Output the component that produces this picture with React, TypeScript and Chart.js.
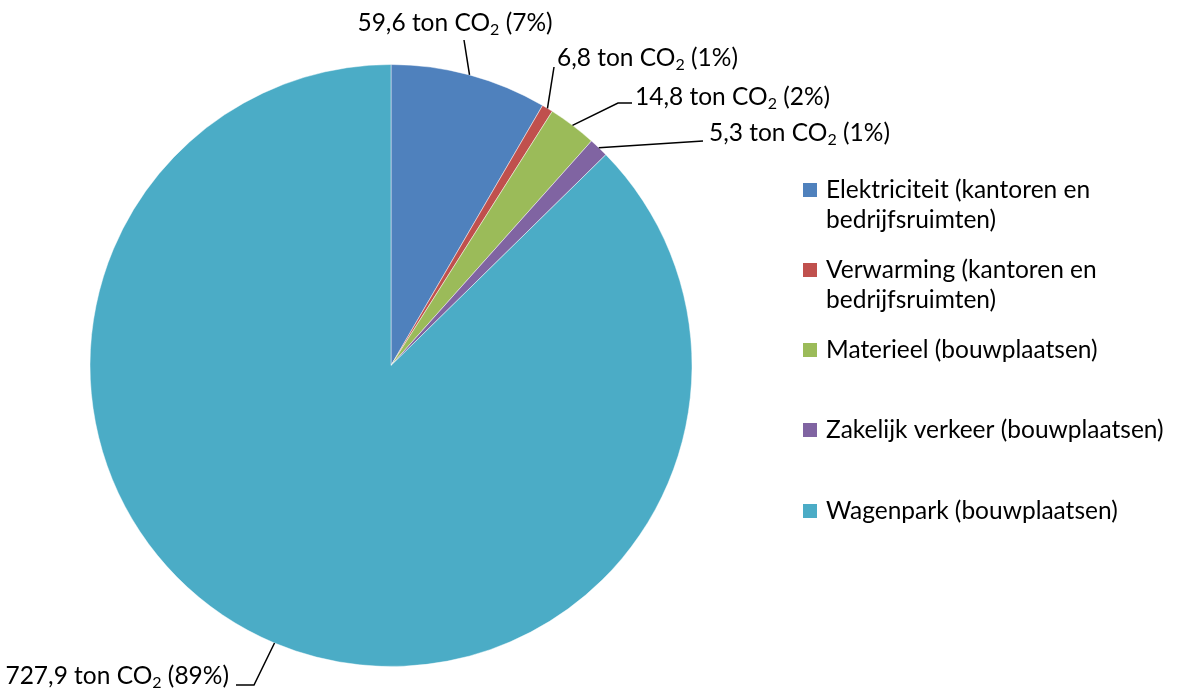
import React, { useEffect, useRef } from "react";
import { Chart, registerables } from "chart.js";

Chart.register(...registerables);

const categories = [
  "Elektriciteit (kantoren en bedrijfsruimten)",
  "Verwarming (kantoren en bedrijfsruimten)",
  "Materieel (bouwplaatsen)",
  "Zakelijk verkeer (bouwplaatsen)",
  "Wagenpark (bouwplaatsen)",
];
// slice shares as drawn in the picture (percent of the circle)
const sliceShares = [8.4, 0.6, 2.6, 1.05, 87.35];
// label texts as printed
const tonLabels = ["59,6", "6,8", "14,8", "5,3", "727,9"];
const pctLabels = ["7%", "1%", "2%", "1%", "89%"];
const legendLines = [
  ["Elektriciteit (kantoren en", "bedrijfsruimten)"],
  ["Verwarming (kantoren en", "bedrijfsruimten)"],
  ["Materieel (bouwplaatsen)"],
  ["Zakelijk verkeer (bouwplaatsen)"],
  ["Wagenpark (bouwplaatsen)"],
];
const colors = ["#4F81BD", "#C0504D", "#9BBB59", "#8064A2", "#4BACC6"];

const FONT = "Lato, 'Open Sans', sans-serif";
const FS = 24.5;

// layout of labels: text anchor + leader line path (after arc point)
const labelLayout = [
  { x: 455, y: 23, align: "center", path: [[464, 40]] },
  { x: 557, y: 58, align: "left", path: [[554, 67]] },
  { x: 635, y: 97, align: "left", path: [[618, 103], [632, 103]] },
  { x: 709, y: 133, align: "left", path: [[703, 141]] },
  { x: 229, y: 676, align: "right", path: [[254, 685], [236, 685]] },
];
const legendLayout = { boxX: 803, textX: 826, size: 14, lineH: 30, rows: [190, 270, 350, 430, 511] };

function drawCO2(ctx: CanvasRenderingContext2D, ton: string, pct: string, x: number, y: number, align: string) {
  const a = ton + " ton CO";
  const s = "2";
  const b = " (" + pct + ")";
  const subFs = Math.round(FS * 0.66);
  ctx.font = `${FS}px ${FONT}`;
  const wa = ctx.measureText(a).width;
  const wb = ctx.measureText(b).width;
  ctx.font = `${subFs}px ${FONT}`;
  const ws = ctx.measureText(s).width;
  const total = wa + ws + wb;
  let x0 = x;
  if (align === "center") x0 = x - total / 2;
  else if (align === "right") x0 = x - total;
  ctx.textAlign = "left";
  ctx.textBaseline = "middle";
  ctx.fillStyle = "#000";
  ctx.font = `${FS}px ${FONT}`;
  ctx.fillText(a, x0, y);
  ctx.font = `${subFs}px ${FONT}`;
  ctx.fillText(s, x0 + wa, y + 7);
  ctx.font = `${FS}px ${FONT}`;
  ctx.fillText(b, x0 + wa + ws, y);
}

const labelPlugin = {
  id: "pieLabels",
  afterDraw(chart: any) {
    const ctx: CanvasRenderingContext2D = chart.ctx;
    const meta = chart.getDatasetMeta(0);
    ctx.save();
    meta.data.forEach((arc: any, i: number) => {
      const p = arc.getProps(["x", "y", "startAngle", "endAngle", "outerRadius"], true);
      const mid = (p.startAngle + p.endAngle) / 2;
      const sx = p.x + Math.cos(mid) * p.outerRadius;
      const sy = p.y + Math.sin(mid) * p.outerRadius;
      const L = labelLayout[i];
      ctx.beginPath();
      ctx.moveTo(sx, sy);
      L.path.forEach((pt) => ctx.lineTo(pt[0], pt[1]));
      ctx.strokeStyle = "#000";
      ctx.lineWidth = 1.5;
      ctx.stroke();
      drawCO2(ctx, tonLabels[i], pctLabels[i], L.x, L.y, L.align);
    });
    // legend
    legendLines.forEach((lines, i) => {
      const cy = legendLayout.rows[i];
      ctx.fillStyle = colors[i];
      ctx.fillRect(legendLayout.boxX, cy - legendLayout.size / 2, legendLayout.size, legendLayout.size);
      ctx.fillStyle = "#000";
      ctx.font = `${FS}px ${FONT}`;
      ctx.textAlign = "left";
      ctx.textBaseline = "middle";
      lines.forEach((t, j) => ctx.fillText(t, legendLayout.textX, cy + j * legendLayout.lineH));
    });
    ctx.restore();
  },
};

export default function App() {
  const ref = useRef<HTMLCanvasElement>(null);
  useEffect(() => {
    document.body.style.margin = "0";
    const chart = new Chart(ref.current!, {
      type: "pie",
      data: {
        labels: categories,
        datasets: [
          {
            data: sliceShares,
            backgroundColor: colors,
            borderColor: "rgba(255,255,255,0.45)",
            borderWidth: 1,
          },
        ],
      },
      options: {
        animation: false,
        responsive: false,
        events: [],
        layout: { padding: { left: 89, right: 484, top: 64, bottom: 24 } },
        plugins: { legend: { display: false }, tooltip: { enabled: false } },
      },
      plugins: [labelPlugin],
    });
    return () => chart.destroy();
  }, []);
  return <canvas ref={ref} width={1177} height={691} style={{ display: "block" }} />;
}
